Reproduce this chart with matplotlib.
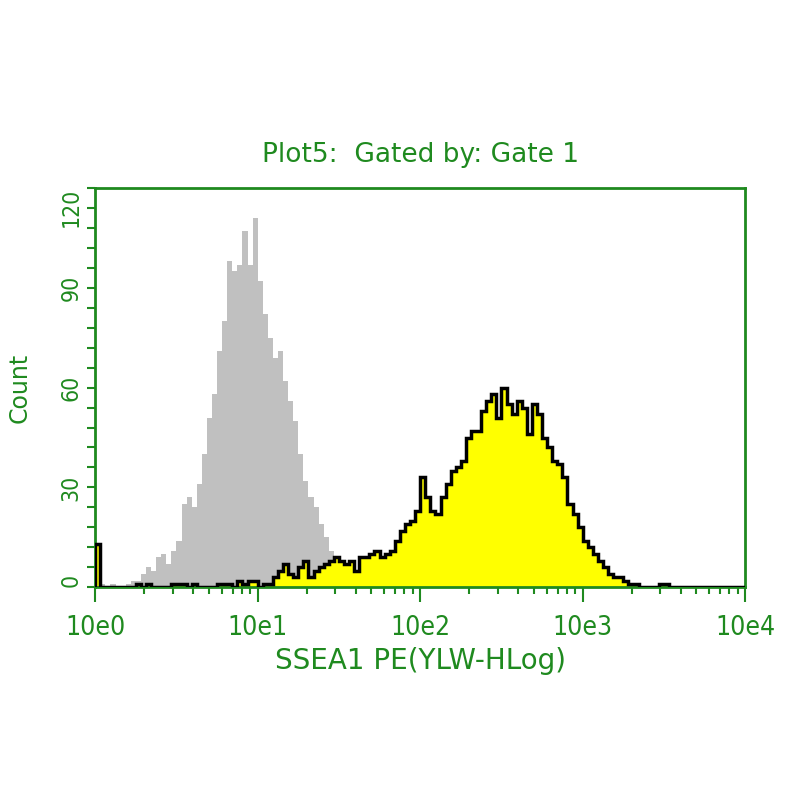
import matplotlib.pyplot as plt
from matplotlib.ticker import FixedLocator, LogLocator, NullFormatter
import numpy as np

# 128 log channels over 10^0 .. 10^4
n_bins = 128
# isotype control (grey)
control = [0, 1, 0, 1, 0, 0, 1, 2, 2, 4, 6, 5, 9, 10, 7, 11,
           14, 25, 27, 24, 31, 40, 51, 58, 71, 80, 98, 95, 97, 107, 97, 111,
           92, 82, 75, 69, 71, 62, 56, 50, 40, 32, 27, 24, 19, 15, 11, 6,
           2] + [0] * 79
# SSEA1 stained sample (yellow)
sample = [13, 0, 0, 0, 0, 0, 0, 0, 1, 0, 1, 0, 0, 0, 0, 1,
          1, 1, 0, 1, 0, 0, 0, 0, 1, 1, 1, 0, 2, 1, 2, 2,
          0, 1, 1, 3, 5, 7, 4, 3, 6, 8, 3, 5, 6, 7, 8, 9,
          8, 7, 8, 5, 9, 9, 10, 11, 9, 10, 11, 14, 17, 19, 20, 23,
          33, 27, 23, 22, 27, 31, 35, 36, 38, 45, 47, 47, 53, 56, 58, 51,
          60, 55, 52, 56, 54, 46, 55, 52, 45, 42, 38, 37, 33, 25, 22, 18,
          14, 12, 10, 8, 6, 4, 3, 3, 2, 1, 1, 0, 0, 0, 0, 1,
          1] + [0] * 15
x_ticklabels = ['10e0', '10e1', '10e2', '10e3', '10e4']
y_ticks = [0, 30, 60, 90, 120]

green = '#1f8a1f'
narrow = dict(family='DejaVu Sans', stretch='condensed', color=green)
wide = dict(family='DejaVu Sans', color=green)

edges = np.logspace(0, 4, n_bins + 1)

fig = plt.figure(figsize=(8, 8), dpi=100)
ax = fig.add_axes([0.119, 0.266, 0.8125, 0.499])

ax.stairs(control, edges, fill=True, color='#c0c0c0', zorder=1)
ax.stairs(sample, edges, fill=True, color='#ffff00', zorder=2)
ax.stairs(sample, edges, color='black', linewidth=2.5, zorder=3)

ax.set_xscale('log')
ax.set_xlim(1, 1e4)
ax.set_ylim(0, 120)

ax.set_xticks([1, 10, 100, 1000, 10000])
ax.set_xticklabels(x_ticklabels, fontsize=19, **narrow)
ax.xaxis.set_minor_locator(LogLocator(base=10, subs=np.arange(2, 10)))
ax.xaxis.set_minor_formatter(NullFormatter())
ax.set_yticks(y_ticks)
ylabs = ax.set_yticklabels([str(v) for v in y_ticks], rotation=90,
                           va='center', fontsize=16.5, **narrow)
# end labels kept inside the axis range, like the instrument software does
ylabs[0].set_va('bottom')
ylabs[-1].set_va('top')
ax.yaxis.set_minor_locator(FixedLocator(np.arange(0, 121, 6)))

for s in ax.spines.values():
    s.set_color(green)
    s.set_linewidth(2)
ax.tick_params(which='both', colors=green, direction='out', width=1.5)
ax.tick_params(axis='x', which='major', length=11, pad=9)
ax.tick_params(axis='x', which='minor', length=5)
ax.tick_params(axis='y', which='both', length=6, pad=3)

ax.set_title('Plot5:  Gated by: Gate 1', fontsize=19, pad=19, **wide)
ax.set_xlabel('SSEA1 PE(YLW-HLog)', fontsize=20, labelpad=4, **wide)
ax.set_ylabel('Count', fontsize=17, labelpad=20, **wide)

fig.savefig('out.png', dpi=100)
